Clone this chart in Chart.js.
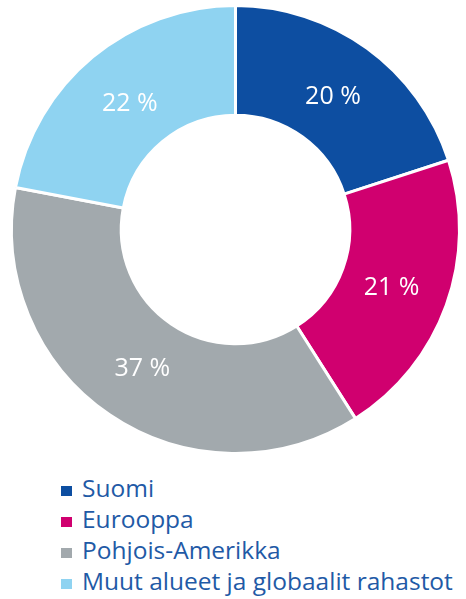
<!DOCTYPE html>
<html lang="fi">
<head>
<meta charset="UTF-8" />
<title>Alueet</title>
<script src="https://cdn.jsdelivr.net/npm/chart.js"></script>
<style>
  html, body { margin: 0; padding: 0; background: #fff; }
  #wrap { position: relative; width: 466px; height: 460px; }
  #legend { list-style: none; margin: 12px 0 0 0; padding: 0 0 0 61px; font-family: "Open Sans", sans-serif; font-size: 24.5px; color: #1f5aa6; }
  #legend li { height: 31px; line-height: 31px; white-space: nowrap; }
  #legend span.box { display: inline-block; width: 11px; height: 10px; margin-right: 10px; vertical-align: 1px; }
</style>
</head>
<body>
<div id="wrap"><canvas id="donut" width="466" height="460"></canvas></div>
<ul id="legend"></ul>
<script>
const regions = ["Suomi", "Eurooppa", "Pohjois-Amerikka", "Muut alueet ja globaalit rahastot"];
const shares = [20, 21, 37, 22];
const colors = ["#0d4ea1", "#d0006f", "#a2a9ad", "#8fd3f1"];

// white "NN %" labels inside the ring
const sliceLabels = {
  id: "sliceLabels",
  afterDatasetsDraw(chart) {
    const ctx = chart.ctx;
    const meta = chart.getDatasetMeta(0);
    ctx.save();
    ctx.fillStyle = "#ffffff";
    ctx.font = "25px 'Open Sans', sans-serif";
    ctx.textAlign = "center";
    ctx.textBaseline = "middle";
    meta.data.forEach((arc, i) => {
      const p = arc.getProps(["x", "y", "startAngle", "endAngle", "innerRadius", "outerRadius"], true);
      const mid = (p.startAngle + p.endAngle) / 2;
      const r = p.innerRadius + 0.47 * (p.outerRadius - p.innerRadius);
      ctx.fillText(shares[i] + " %", p.x + Math.cos(mid) * r, p.y + Math.sin(mid) * r + 2);
    });
    ctx.restore();
  }
};

new Chart(document.getElementById("donut").getContext("2d"), {
  type: "doughnut",
  data: {
    labels: regions,
    datasets: [{
      data: shares,
      backgroundColor: colors,
      borderColor: "#ffffff",
      borderWidth: 3,
      hoverOffset: 0
    }]
  },
  options: {
    responsive: false,
    animation: false,
    cutout: "51%",
    layout: { padding: { left: 10, right: 5, top: 4, bottom: 5 } },
    plugins: {
      legend: { display: false },
      tooltip: { enabled: false }
    }
  },
  plugins: [sliceLabels]
});

// legend list under the chart
const legend = document.getElementById("legend");
regions.forEach((name, i) => {
  const li = document.createElement("li");
  li.innerHTML = '<span class="box" style="background:' + colors[i] + '"></span>' + name;
  legend.appendChild(li);
});
</script>
</body>
</html>
